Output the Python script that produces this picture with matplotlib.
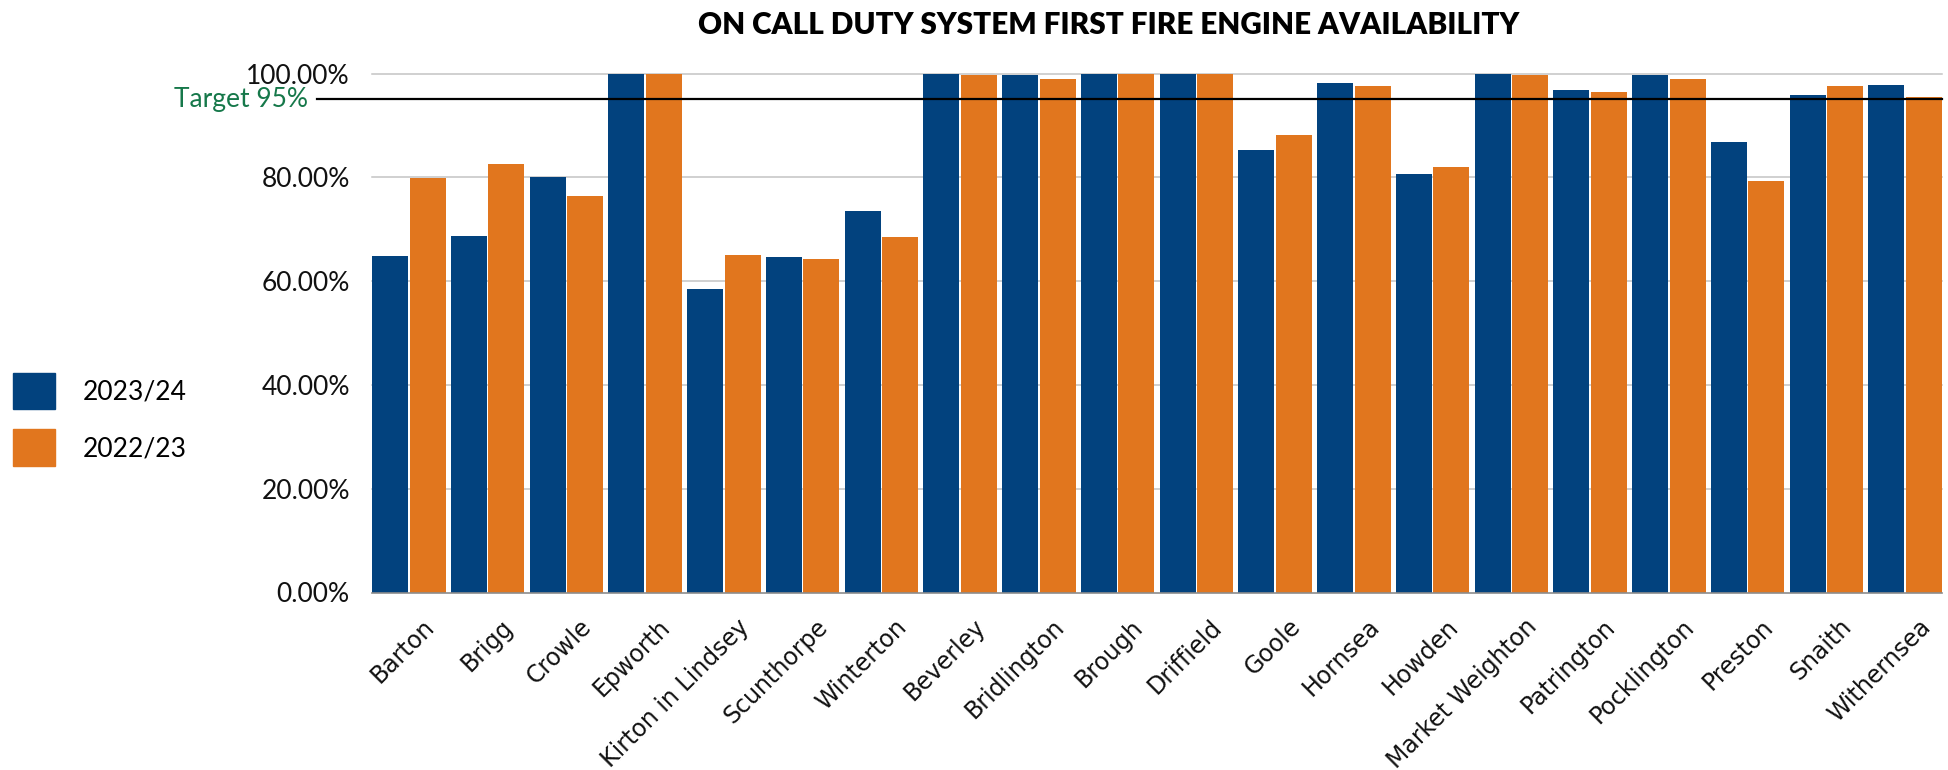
import matplotlib

matplotlib.use("Agg")
import matplotlib.pyplot as plt
import matplotlib.transforms as mtransforms
import numpy as np
from matplotlib.patches import Patch

plt.rcParams["font.family"] = ["Lato", "DejaVu Sans"]

stations = [
    "Barton", "Brigg", "Crowle", "Epworth", "Kirton in Lindsey", "Scunthorpe",
    "Winterton", "Beverley", "Bridlington", "Brough", "Driffield", "Goole",
    "Hornsea", "Howden", "Market Weighton", "Patrington", "Pocklington",
    "Preston", "Snaith", "Withernsea",
]
avail_2324 = [64.9, 68.7, 80.1, 100.0, 58.5, 64.7, 73.5, 100.0, 99.7, 100.0,
              100.0, 85.3, 98.1, 80.6, 100.0, 96.8, 99.7, 86.8, 95.8, 97.7]
avail_2223 = [79.9, 82.6, 76.4, 100.0, 65.1, 64.3, 68.5, 99.7, 98.9, 100.0,
              100.0, 88.1, 97.6, 82.0, 99.7, 96.4, 98.9, 79.3, 97.6, 95.4]
series_labels = ["2023/24", "2022/23"]
yticks = [0, 20, 40, 60, 80, 100]
target = 95

BLUE = "#02427E"
ORANGE = "#E1761E"
GREEN = "#16784A"

fig = plt.figure(figsize=(19.48, 7.70), dpi=100)
ax = fig.add_axes([372 / 1948, (770 - 592.5) / 770, 1570 / 1948, 519 / 770])

x = np.arange(len(stations))
w = 0.457
g = 0.019
ax.bar(x - (w + g) / 2, avail_2324, w, color=BLUE, linewidth=0, zorder=2)
ax.bar(x + (w + g) / 2, avail_2223, w, color=ORANGE, linewidth=0, zorder=2)

# grid lines and baseline
for v in yticks[1:]:
    ax.axhline(v, color="#c4c4c4", lw=1.1, zorder=1, clip_on=False)
ax.axhline(0, color="#8c8c8c", lw=1.2, zorder=3, clip_on=False)

# target line pokes out past the y axis, label sits at its left end
ax.axhline(target, xmin=-0.035, xmax=1, color="black", lw=1.6, zorder=4, clip_on=False)
trans = mtransforms.blended_transform_factory(ax.transAxes, ax.transData)
ax.text(-0.0408, target, f"Target {target}%", transform=trans, ha="right",
        va="center", color=GREEN, fontsize=19)

ax.set_xlim(-0.467, len(stations) - 1 + 0.467)
ax.set_ylim(0, 100)
ax.set_yticks(yticks)
ax.set_yticklabels([f"{v:.2f}%" for v in yticks], fontsize=19, color="#111111")
ax.tick_params(axis="y", length=0, pad=16)

ax.set_xticks(x)
ax.set_xticklabels(stations, rotation=45, ha="right", va="top",
                   rotation_mode="anchor", fontsize=17, color="#111111",
                   family=["DejaVu Sans"])
ax.tick_params(axis="x", length=0, pad=16)
offset = mtransforms.ScaledTranslation(13 / 100, 0, fig.dpi_scale_trans)
for lbl in ax.get_xticklabels():
    lbl.set_transform(lbl.get_transform() + offset)

for s in ax.spines.values():
    s.set_visible(False)

handles = [Patch(color=BLUE), Patch(color=ORANGE)]
fig.legend(handles, series_labels, loc="upper left",
           bbox_to_anchor=(13 / 1948, 1 - 373 / 770), frameon=False,
           fontsize=19, handlelength=1.6, handleheight=1.75,
           handletextpad=1.05, labelspacing=0.75, borderpad=0, borderaxespad=0)

fig.text(1109 / 1948, 1 - 25 / 770, "ON CALL DUTY SYSTEM FIRST FIRE ENGINE AVAILABILITY",
         ha="center", va="center", fontsize=21.3, weight="heavy")

fig.savefig("out.png", dpi=100)
